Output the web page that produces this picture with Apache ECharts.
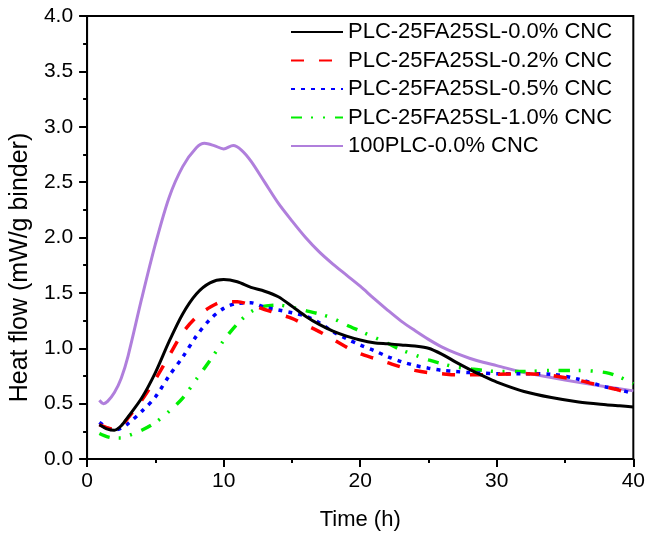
<!DOCTYPE html>
<html>
<head>
<meta charset="utf-8">
<script src="https://cdn.jsdelivr.net/npm/echarts@6/dist/echarts.min.js"></script>
<style>html,body{margin:0;padding:0;background:#fff}#c{width:648px;height:536px}</style>
</head>
<body>
<div id="c"></div>
<script>
var seriesNames = ['PLC-25FA25SL-0.0% CNC','PLC-25FA25SL-0.2% CNC','PLC-25FA25SL-0.5% CNC','PLC-25FA25SL-1.0% CNC','100PLC-0.0% CNC'];
var timeH = [0.9,1.5,2,2.5,3,4,5,6,7,8,9,10,11,12,13,14,15,16,17,18,19,20,21,22,23,24,25,26,27,28,29,30,32,34,36,38,39,40];
var flowCNC00 = [0.31,0.27,0.26,0.30,0.38,0.55,0.78,1.06,1.31,1.49,1.59,1.62,1.60,1.55,1.515,1.465,1.38,1.29,1.215,1.155,1.11,1.075,1.05,1.04,1.03,1.02,1.00,0.945,0.875,0.81,0.75,0.695,0.61,0.555,0.515,0.49,0.48,0.47];
var flowCNC02 = [0.31,0.28,0.27,0.30,0.37,0.53,0.72,0.93,1.14,1.28,1.37,1.42,1.42,1.39,1.35,1.31,1.27,1.21,1.15,1.08,1.01,0.95,0.91,0.87,0.83,0.80,0.78,0.77,0.76,0.76,0.76,0.765,0.77,0.755,0.71,0.65,0.62,0.58];
var flowCNC05 = [0.33,0.28,0.26,0.28,0.32,0.43,0.56,0.75,0.92,1.11,1.26,1.36,1.405,1.41,1.37,1.345,1.32,1.29,1.23,1.15,1.085,1.03,0.98,0.925,0.88,0.845,0.82,0.80,0.79,0.78,0.775,0.77,0.77,0.765,0.72,0.65,0.625,0.59];
var flowCNC10 = [0.23,0.20,0.19,0.19,0.21,0.26,0.33,0.43,0.55,0.72,0.89,1.07,1.22,1.33,1.38,1.39,1.37,1.34,1.31,1.27,1.21,1.155,1.10,1.045,0.985,0.94,0.895,0.86,0.83,0.815,0.80,0.79,0.79,0.80,0.80,0.78,0.74,0.68];
var timePLC = [0.9,1.2,1.5,2,2.5,3,4,5,6,7,8,8.6,9.3,10,10.7,11.3,12,13,14,15,16,17,18,19,20,21,22,23,24,25,26,27,28,29,30,32,34,36,38,40];
var flowPLC = [0.53,0.50,0.52,0.60,0.73,0.93,1.45,1.94,2.36,2.64,2.81,2.85,2.83,2.80,2.83,2.79,2.69,2.50,2.31,2.15,2.00,1.87,1.76,1.66,1.56,1.45,1.345,1.245,1.16,1.08,1.01,0.955,0.91,0.873,0.843,0.78,0.735,0.692,0.652,0.615];
var xTicks = [0,10,20,30,40];
var yTicks = [0,0.5,1,1.5,2,2.5,3,3.5,4];

function pairs(t, v){ return t.map(function(x,i){ return [x, v[i]]; }); }

var FONT = 'Liberation Sans, Arial, sans-serif';
var chart = echarts.init(document.getElementById('c'), null, {renderer:'canvas'});

var styles = [
  {color:'#000000', width:3, type:'solid'},
  {color:'#ff0000', width:3.5, type:[13,15]},
  {color:'#0000ff', width:3.5, type:[4,6]},
  {color:'#00ee00', width:3.5, type:[11,9,2,10,2,10]},
  {color:'#b07fdc', width:3, type:'solid'}
];
var dataSets = [pairs(timeH,flowCNC00), pairs(timeH,flowCNC02), pairs(timeH,flowCNC05), pairs(timeH,flowCNC10), pairs(timePLC,flowPLC)];

var series = dataSets.map(function(d,i){
  return {
    name: seriesNames[i], type:'line', data:d, smooth:0.3, showSymbol:false, symbol:'none',
    lineStyle:{color:styles[i].color, width:styles[i].width, type:styles[i].type, cap:'butt'},
    itemStyle:{color:styles[i].color},
    z: i===4 ? 1 : 5 - i, animation:false
  };
});

chart.setOption({
  animation:false,
  backgroundColor:'#ffffff',
  textStyle:{fontFamily:FONT},
  grid:{left:87, right:12, top:16, bottom:77, show:true, borderColor:'#000', borderWidth:2, backgroundColor:'transparent'},
  legend:{
    show:true, orient:'vertical', left:290, top:21, padding:0, itemWidth:52, itemHeight:14, itemGap:6.5,
    data:seriesNames,
    itemStyle:{opacity:0},
    textStyle:{fontFamily:FONT, fontSize:22, color:'#000', lineHeight:22}
  },
  xAxis:{
    type:'value', min:0, max:40, interval:10,
    name:'Time (h)', nameLocation:'middle', nameGap:50,
    nameTextStyle:{fontFamily:FONT, fontSize:22, color:'#000'},
    axisLine:{show:true, onZero:false, lineStyle:{color:'#000', width:2}},
    axisTick:{show:true, inside:false, length:8, lineStyle:{color:'#000', width:2}},
    minorTick:{show:true, splitNumber:2, length:4, lineStyle:{color:'#000', width:2}},
    axisLabel:{fontFamily:FONT, fontSize:21, color:'#000', margin:12,
      formatter:function(v){ return xTicks.indexOf(v)>=0 ? String(v) : ''; }},
    splitLine:{show:false}
  },
  yAxis:{
    type:'value', min:0, max:4, interval:0.5,
    name:'Heat flow (mW/g binder)', nameLocation:'middle', nameGap:44, nameRotate:90,
    nameTextStyle:{fontFamily:FONT, fontSize:25, color:'#000', padding:[0,60,0,0]},
    axisLine:{show:true, onZero:false, lineStyle:{color:'#000', width:2}},
    axisTick:{show:true, inside:false, length:8, lineStyle:{color:'#000', width:2}},
    minorTick:{show:true, splitNumber:2, length:4, lineStyle:{color:'#000', width:2}},
    axisLabel:{fontFamily:FONT, fontSize:21, color:'#000', margin:14,
      formatter:function(v){ var k = yTicks.indexOf(v); return k>=0 ? yTicks[k].toFixed(1) : ''; }},
    splitLine:{show:false}
  },
  series:series
});
</script>
</body>
</html>
